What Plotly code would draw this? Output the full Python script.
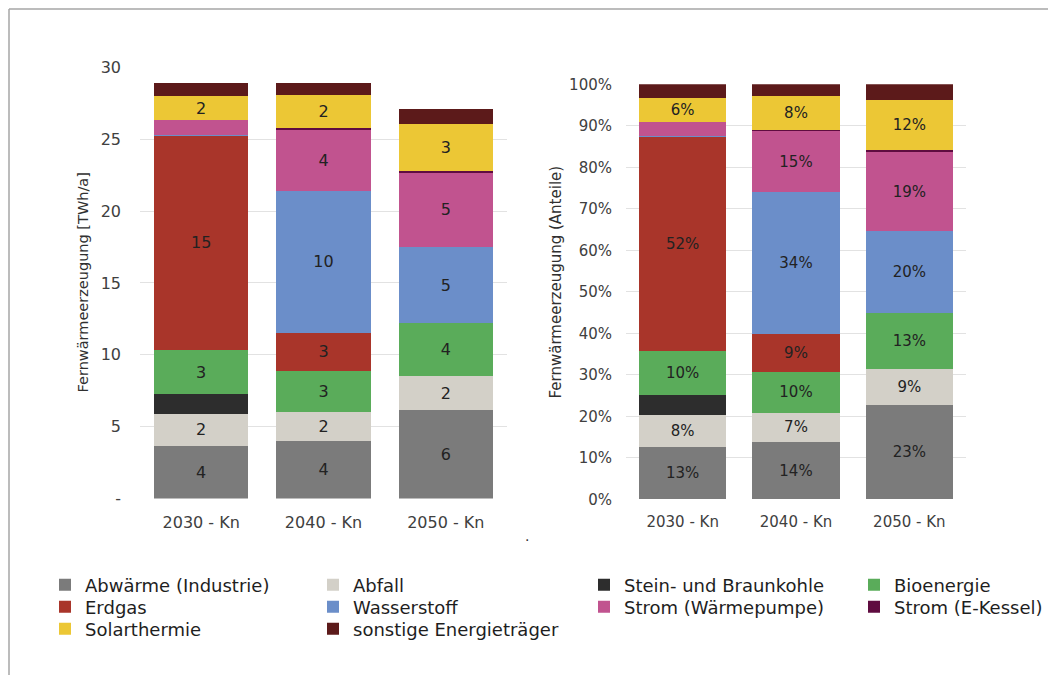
import plotly.graph_objects as go

categories = ["2030 - Kn", "2040 - Kn", "2050 - Kn"]

series_names = [
    "Abwärme (Industrie)", "Abfall", "Stein- und Braunkohle", "Bioenergie",
    "Erdgas", "Wasserstoff", "Strom (Wärmepumpe)", "Strom (E-Kessel)",
    "Solarthermie", "sonstige Energieträger",
]

# TWh/a per category
abwaerme = [3.67, 3.99, 6.15]
abfall = [2.20, 2.04, 2.38]
kohle = [1.41, 0.0, 0.0]
bioenergie = [3.03, 2.82, 3.65]
erdgas = [14.95, 2.69, 0.0]
wasserstoff = [0.05, 9.84, 5.32]
strom_wp = [1.02, 4.26, 5.18]
strom_ek = [0.0, 0.11, 0.12]
solar = [1.65, 2.32, 3.29]
sonstige = [0.95, 0.83, 1.02]

series_values = [abwaerme, abfall, kohle, bioenergie, erdgas,
                 wasserstoff, strom_wp, strom_ek, solar, sonstige]

colors = ["#7b7b7b", "#d3d0c8", "#2d2d2d", "#5aac5a", "#a9352a",
          "#6b8ec9", "#c1538f", "#5f0c40", "#ecc735", "#5c1a1a"]

left_ticks = [0, 5, 10, 15, 20, 25, 30]
left_ticktext = ["-", "5", "10", "15", "20", "25", "30"]
right_ticks = [0, 10, 20, 30, 40, 50, 60, 70, 80, 90, 100]
right_ticktext = [f"{t}%" for t in right_ticks]

label_min = 1.5

totals = [sum(s[i] for s in series_values) for i in range(len(categories))]

FONT = "DejaVu Sans"
W, H = 1048, 667   # page has 8px body margin
OFF = 8


def fx(p):
    return (p - OFF) / W


def fy(p):
    return 1 - (p - OFF) / H


# legend grid (page px): text-left x per column, row centre y
legend_cols = [86, 354, 625, 895]
legend_rows = [585, 607, 629]

fig = go.Figure()

legends = {}
for i, (name, vals, col) in enumerate(zip(series_names, series_values, colors)):
    lid = "legend" if i == 0 else f"legend{i + 1}"
    r, c = divmod(i, 4)
    legends[lid] = dict(
        x=fx(legend_cols[c] - 41), y=fy(legend_rows[r]), xanchor="left", yanchor="middle",
        orientation="v", itemwidth=30, bgcolor="rgba(0,0,0,0)", borderwidth=0,
        font=dict(family=FONT, size=18, color="#1e1e1e"),
    )
    txt = [f"{v:.0f}" if v >= label_min else "" for v in vals]
    fig.add_trace(go.Bar(
        x=categories, y=vals, name=name, marker=dict(color=col, line=dict(width=0)),
        text=txt, textposition="inside", insidetextanchor="middle", textangle=0,
        textfont=dict(family=FONT, size=16, color="#222222"),
        constraintext="none", xaxis="x", yaxis="y", showlegend=True, legend=lid,
        hoverinfo="skip",
    ))

for name, vals, col in zip(series_names, series_values, colors):
    shares = [v / t * 100 for v, t in zip(vals, totals)]
    txt = [f"{s:.0f}%" if v >= label_min else "" for v, s in zip(vals, shares)]
    fig.add_trace(go.Bar(
        x=categories, y=shares, name=name, marker=dict(color=col, line=dict(width=0)),
        text=txt, textposition="inside", insidetextanchor="middle", textangle=0,
        textfont=dict(family=FONT, size=15, color="#222222"),
        constraintext="none", xaxis="x2", yaxis="y2", showlegend=False,
        hoverinfo="skip",
    ))

left_font = dict(family=FONT, size=16, color="#404040")
right_font = dict(family=FONT, size=15, color="#404040")

fig.update_layout(
    width=W, height=H,
    margin=dict(l=0, r=0, t=0, b=0, autoexpand=False),
    paper_bgcolor="white", plot_bgcolor="white",
    barmode="stack", bargap=0.23,
    font=dict(family=FONT, color="#303030"),
    xaxis=dict(domain=[fx(140), fx(507)], anchor="y", tickfont=left_font, automargin=False,
               showgrid=False, showline=False, ticks="", ticklabelstandoff=12),
    yaxis=dict(domain=[fy(498.5), fy(67.3)], anchor="x", range=[0, 30], automargin=False,
               tickvals=left_ticks, ticktext=left_ticktext, tickfont=left_font,
               showgrid=True, gridcolor="#e2e2e2", gridwidth=1, zeroline=False,
               showline=False, ticks="", ticklabelstandoff=18),
    xaxis2=dict(domain=[fx(626), fx(966)], anchor="y2", tickfont=right_font, automargin=False,
                showgrid=False, showline=False, ticks="", ticklabelstandoff=12),
    yaxis2=dict(domain=[fy(499.3), fy(84.3)], anchor="x2", range=[0, 100], automargin=False,
                tickvals=right_ticks, ticktext=right_ticktext, tickfont=right_font,
                showgrid=True, gridcolor="#e2e2e2", gridwidth=1, zeroline=False,
                showline=False, ticks="", ticklabelstandoff=13),
    annotations=[
        dict(text="Fernwärmeerzeugung [TWh/a]", x=fx(82), y=fy(282.5), xref="paper", yref="paper",
             xanchor="center", yanchor="middle",
             textangle=-90, showarrow=False, font=dict(family=FONT, size=14.5, color="#303030")),
        dict(text="Fernwärmeerzeugung (Anteile)", x=fx(555), y=fy(282.5), xref="paper", yref="paper",
             xanchor="center", yanchor="middle",
             textangle=-90, showarrow=False, font=dict(family=FONT, size=15, color="#303030")),
        dict(text=".", x=fx(527), y=fy(536), xref="paper", yref="paper",
             xanchor="center", yanchor="middle",
             showarrow=False, font=dict(family=FONT, size=14, color="#303030")),
    ],
    shapes=[
        dict(type="line", xref="paper", yref="paper", x0=fx(9), x1=1, y0=fy(9), y1=fy(9),
             line=dict(color="#a6a6a6", width=1.5)),
        dict(type="line", xref="paper", yref="paper", x0=fx(9), x1=fx(9), y0=fy(9), y1=0,
             line=dict(color="#a6a6a6", width=1.5)),
    ],
)
fig.update_layout(**legends)

fig.write_html("out.html")
